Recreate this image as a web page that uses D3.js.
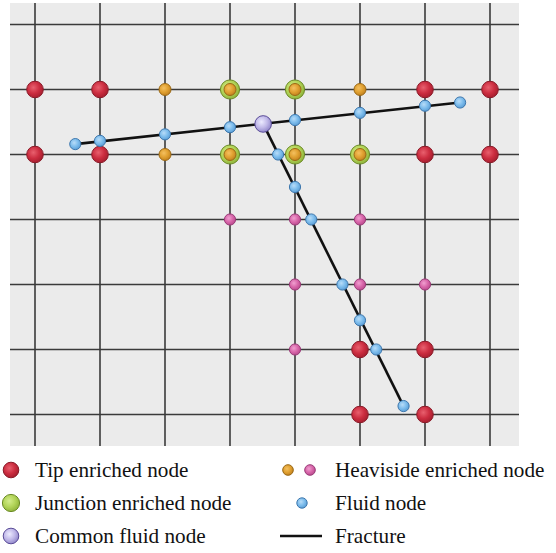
<!DOCTYPE html>
<html>
<head>
<meta charset="UTF-8">
<title>Enriched nodes</title>
<script src="https://cdn.jsdelivr.net/npm/d3@7"></script>
<style>
  body { margin: 0; background: #fff; }
  text { font-family: "Liberation Serif", "Times New Roman", serif; }
</style>
</head>
<body>
<div id="chart"></div>
<script>
// grid columns / rows (grid units)
const cols = [0, 1, 2, 3, 4, 5, 6, 7];
const rows = [0, 1, 2, 3, 4, 5, 6];

// enriched nodes at grid intersections [col, row]
const tipNodes = [[0,1],[1,1],[6,1],[7,1],[0,2],[1,2],[6,2],[7,2],[5,5],[6,5],[5,6],[6,6]];
const junctionNodes = [[3,1],[4,1],[3,2],[4,2],[5,2]];
const heavisideOrange = [[2,1],[5,1],[2,2],[3,1],[4,1],[3,2],[4,2],[5,2]];
const heavisidePink = [[3,3],[4,3],[5,3],[4,4],[5,4],[6,4],[4,5]];

// fractures and fluid nodes
const fracture1 = [[0.62,1.84],[6.54,1.2]];
const fracture2 = [[3.51,1.53],[5.67,5.87]];
const fluidNodes = [[0.62,1.84],[1,1.79],[2,1.69],[3,1.58],[4,1.47],[5,1.36],[6,1.25],[6.54,1.2],
                    [3.74,2],[4,2.5],[4.25,3],[4.73,4],[5,4.55],[5.25,5],[5.67,5.87]];
const commonNodes = [[3.51,1.53]];

const legendItems = ["Tip enriched node", "Junction enriched node", "Common fluid node",
                     "Heaviside enriched node", "Fluid node", "Fracture"];

const width = 556, height = 553;
const svg = d3.select("#chart").append("svg")
    .attr("width", width).attr("height", height);

const x = d3.scaleLinear().domain([0, 7]).range([35, 490]);
const y = d3.scaleLinear().domain([0, 6]).range([24.5, 414.5]);

// gradients
const defs = svg.append("defs");
function grad(id, light, mid, dark) {
    const g = defs.append("radialGradient").attr("id", id)
        .attr("cx", "40%").attr("cy", "38%").attr("r", "65%");
    g.append("stop").attr("offset", "0%").attr("stop-color", light);
    g.append("stop").attr("offset", "55%").attr("stop-color", mid);
    g.append("stop").attr("offset", "100%").attr("stop-color", dark);
}
grad("gTip", "#e8606e", "#cc2d40", "#a51e2e");
grad("gJun", "#d4ec8c", "#b2d458", "#8fb23a");
grad("gOra", "#f4c060", "#e0a030", "#c08020");
grad("gPink", "#f0a0d0", "#d866aa", "#b84a8c");
grad("gBlue", "#b8dcf8", "#7cbcec", "#5a9cd4");
grad("gPur", "#ecebff", "#c0b8e8", "#8e84c8");

// panel
svg.append("rect").attr("x", 10).attr("y", 3).attr("width", 509).attr("height", 443)
    .attr("fill", "#ebebeb");

// grid lines
svg.append("g").selectAll("line").data(cols).join("line")
    .attr("x1", d => x(d)).attr("x2", d => x(d))
    .attr("y1", 3).attr("y2", 446)
    .attr("stroke", "#3a3a3a").attr("stroke-width", 1.6);
svg.append("g").selectAll("line").data(rows).join("line")
    .attr("x1", 10).attr("x2", 519)
    .attr("y1", d => y(d)).attr("y2", d => y(d))
    .attr("stroke", "#3a3a3a").attr("stroke-width", 1.6);

// fractures
const line = d3.line().x(d => x(d[0])).y(d => y(d[1]));
svg.append("g").selectAll("path").data([fracture1, fracture2]).join("path")
    .attr("d", line).attr("fill", "none")
    .attr("stroke", "#111").attr("stroke-width", 2.6);

function dots(data, r, fill, stroke) {
    svg.append("g").selectAll("circle").data(data).join("circle")
        .attr("cx", d => x(d[0])).attr("cy", d => y(d[1])).attr("r", r)
        .attr("fill", fill).attr("stroke", stroke).attr("stroke-width", 1);
}
dots(tipNodes, 8.3, "url(#gTip)", "#8a1a28");
dots(junctionNodes, 9.6, "url(#gJun)", "#6a8a24");
dots(heavisideOrange, 6, "url(#gOra)", "#9a6814");
dots(heavisidePink, 5.6, "url(#gPink)", "#9a3a78");
dots(fluidNodes, 5.6, "url(#gBlue)", "#3e78ae");
dots(commonNodes, 8.3, "url(#gPur)", "#5a4c98");

// legend
const lg = svg.append("g");
const ly = [470, 503, 536];
const leg = [
    {x: 11, y: ly[0], r: 7.8, f: "url(#gTip)", s: "#8a1a28"},
    {x: 11, y: ly[1], r: 8.6, f: "url(#gJun)", s: "#6a8a24"},
    {x: 11, y: ly[2], r: 7.8, f: "url(#gPur)", s: "#5a4c98"},
    {x: 288, y: ly[0], r: 5.3, f: "url(#gOra)", s: "#9a6814"},
    {x: 310, y: ly[0], r: 5.3, f: "url(#gPink)", s: "#9a3a78"},
    {x: 302, y: ly[1], r: 5.2, f: "url(#gBlue)", s: "#3e78ae"}
];
lg.selectAll("circle").data(leg).join("circle")
    .attr("cx", d => d.x).attr("cy", d => d.y).attr("r", d => d.r)
    .attr("fill", d => d.f).attr("stroke", d => d.s).attr("stroke-width", 1);
lg.append("line").attr("x1", 280).attr("x2", 322).attr("y1", ly[2]).attr("y2", ly[2])
    .attr("stroke", "#111").attr("stroke-width", 2.6);
lg.selectAll("text").data(legendItems).join("text")
    .attr("x", (d, i) => i < 3 ? 35 : 335)
    .attr("y", (d, i) => ly[i % 3] + 7)
    .attr("font-size", 21.2).attr("fill", "#111")
    .text(d => d);
</script>
</body>
</html>
